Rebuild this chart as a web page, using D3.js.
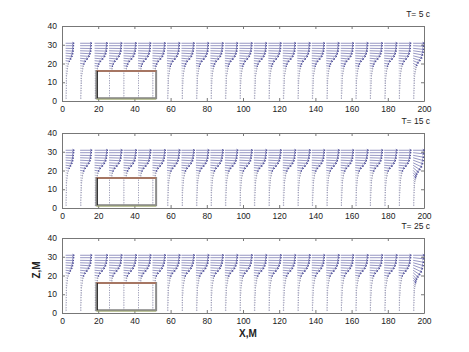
<!doctype html>
<html lang="en">
<head>
<meta charset="utf-8">
<title>Quiver panels</title>
<script src="https://d3js.org/d3.v7.min.js"></script>
<style>
  body { margin: 0; background: #fff; }
  svg text { font-family: "Liberation Sans", Arial, sans-serif; }
</style>
</head>
<body>
<div id="chart"></div>
<script>
// grid of arrow origins (m)
var xCols = [2, 10, 18, 26, 34, 42, 50, 58, 66, 74, 82, 90, 98, 106, 114, 122, 130, 138, 146, 154, 162, 170, 178, 186, 194];
var zRows = [1.5, 2.8, 4.2, 5.5, 6.8, 8.2, 9.5, 10.8, 12.1, 13.5, 14.8, 16.1, 17.5, 18.8, 20.1, 21.5, 22.8, 24.1, 25.5, 26.8, 28.1, 29.5, 30.8];
var xTicks = [0, 20, 40, 60, 80, 100, 120, 140, 160, 180, 200];
var zTicks = [0, 10, 20, 30, 40];
var titles = ["T= 5 c", "T= 15 c", "T= 25 c"];

// obstacle box (m)
var box = {x0: 19, x1: 52, z0: 1.5, z1: 16};

// horizontal / vertical arrow lengths per row, bottom to top
var u5  = [0.7, 0.7, 0.8, 0.8, 0.9, 0.9, 1.0, 1.0, 1.1, 1.2, 1.4, 1.6, 1.9, 2.2, 2.7, 3.6, 4.8, 5.9, 6.5, 6.9, 7.1, 7.2, 7.3];
var w5  = [0, 0, 0, 0, 0, 0, 0, -0.1, -0.1, -0.1, -0.2, -0.2, -0.3, -0.3, -0.4, -0.4, -0.4, -0.3, -0.3, -0.2, -0.1, 0, 0];
var u15 = [0.7, 0.7, 0.7, 0.8, 0.8, 0.9, 0.9, 1.0, 1.1, 1.2, 1.3, 1.5, 1.8, 2.1, 2.6, 3.5, 4.7, 5.8, 6.5, 6.9, 7.1, 7.3, 7.4];
var w15 = [0, 0, 0, 0, 0, 0, 0, -0.1, -0.1, -0.1, -0.2, -0.2, -0.3, -0.3, -0.4, -0.4, -0.4, -0.3, -0.3, -0.2, -0.1, 0, 0];
var u25 = [0.7, 0.7, 0.7, 0.8, 0.8, 0.8, 0.9, 1.0, 1.0, 1.1, 1.3, 1.5, 1.8, 2.0, 2.5, 3.4, 4.6, 5.7, 6.4, 6.9, 7.1, 7.3, 7.4];
var w25 = [0, 0, 0, 0, 0, 0, 0, -0.1, -0.1, -0.1, -0.2, -0.2, -0.3, -0.3, -0.4, -0.4, -0.4, -0.3, -0.3, -0.2, -0.1, 0, 0];

// column strength (left edge weaker)
var colScale = [0.65, 0.9, 1, 1, 1, 1, 1, 1, 1, 1, 1, 1, 1, 1, 1, 1, 1, 1, 1, 1, 1, 1, 1, 0.95, 0.85];

// last column turns downward near the right wall
var lastW5  = [0, 0, 0, 0, 0, 0, 0, 0, -0.2, -0.3, -0.4, -0.6, -0.8, -1.0, -1.2, -1.3, -1.3, -1.2, -1.0, -0.8, -0.6, -0.3, 0];
var lastW15 = [0, 0, 0, 0, 0, 0, 0, 0, -0.3, -0.5, -0.8, -1.2, -1.6, -2.0, -2.3, -2.5, -2.5, -2.3, -2.0, -1.6, -1.1, -0.6, 0];
var lastW25 = [0, 0, 0, 0, 0, 0, 0, 0, -0.3, -0.5, -0.8, -1.2, -1.6, -2.0, -2.3, -2.5, -2.5, -2.3, -2.0, -1.6, -1.1, -0.6, 0];

var panels = [
  {title: titles[0], u: u5,  w: w5,  lastW: lastW5,  top: 26},
  {title: titles[1], u: u15, w: w15, lastW: lastW15, top: 133},
  {title: titles[2], u: u25, w: w25, lastW: lastW25, top: 238}
];

var W = 469, H = 352;
var left = 62, right = 424, ph = 75;

var svg = d3.select("#chart").append("svg")
  .attr("width", W).attr("height", H);

var x = d3.scaleLinear().domain([0, 200]).range([left, right]);

panels.forEach(function(p) {
  var y = d3.scaleLinear().domain([0, 40]).range([p.top + ph, p.top]);
  var g = svg.append("g");

  // axes, matlab style ticks pointing inward
  g.append("g")
    .attr("transform", "translate(0," + (p.top + ph) + ")")
    .call(d3.axisBottom(x).tickValues(xTicks).tickSizeInner(-3).tickSizeOuter(0).tickPadding(5));
  g.append("g")
    .attr("transform", "translate(0," + p.top + ")")
    .call(d3.axisTop(x).tickValues(xTicks).tickSizeInner(-3).tickSizeOuter(0).tickFormat(""));
  g.append("g")
    .attr("transform", "translate(" + left + ",0)")
    .call(d3.axisLeft(y).tickValues(zTicks).tickSizeInner(-3).tickSizeOuter(0).tickPadding(5));
  g.append("g")
    .attr("transform", "translate(" + right + ",0)")
    .call(d3.axisRight(y).tickValues(zTicks).tickSizeInner(-3).tickSizeOuter(0).tickFormat(""));
  g.selectAll(".domain").attr("stroke", "#777");
  g.selectAll(".tick line").attr("stroke", "#777");
  g.selectAll(".tick text").attr("font-size", 8.5).attr("fill", "#222");

  // arrows
  var arrows = [];
  xCols.forEach(function(xc, i) {
    zRows.forEach(function(zr, j) {
      var u = p.u[j] * colScale[i];
      var w = p.w[j];
      if (i == xCols.length - 1) w = p.lastW[j];
      if (xc > box.x0 && xc < box.x1 && zr < box.z1) { u = 0.4; w = 0; }
      arrows.push({x: xc, z: zr, u: u, w: w});
    });
  });

  var a = g.append("g").attr("fill", "none");
  arrows.forEach(function(d) {
    var x0 = x(d.x), y0 = y(d.z), x1 = x(d.x + d.u), y1 = y(d.z + d.w);
    var dx = x1 - x0, dy = y1 - y0, len = Math.sqrt(dx * dx + dy * dy);
    var big = len > 4;
    a.append("line").attr("x1", x0).attr("y1", y0).attr("x2", x1).attr("y2", y1)
      .attr("stroke", big ? "#7c7cb4" : "#b4b4cc").attr("stroke-width", 0.8);
    var ang = Math.atan2(dy, dx), hl = Math.max(0.8, Math.min(2, len * 0.3));
    a.append("path")
      .attr("d", "M" + (x1 - hl * Math.cos(ang - 0.5)) + "," + (y1 - hl * Math.sin(ang - 0.5)) +
        "L" + x1 + "," + y1 +
        "L" + (x1 - hl * Math.cos(ang + 0.5)) + "," + (y1 - hl * Math.sin(ang + 0.5)))
      .attr("stroke", big ? "#34348a" : "#8a8aa6").attr("stroke-width", 0.7);
  });

  // obstacle outline
  var bx0 = x(box.x0), bx1 = x(box.x1), by0 = y(box.z0), by1 = y(box.z1);
  g.append("rect").attr("x", bx0).attr("y", by1).attr("width", bx1 - bx0).attr("height", by0 - by1)
    .attr("fill", "none").attr("stroke", "#8c8c8c").attr("stroke-width", 2);
  g.append("line").attr("x1", bx0).attr("x2", bx1).attr("y1", by1).attr("y2", by1)
    .attr("stroke", "#c0603a").attr("stroke-width", 1.2);
  g.append("line").attr("x1", bx0 + 1).attr("x2", bx0 + 1).attr("y1", by1).attr("y2", by0)
    .attr("stroke", "#222").attr("stroke-width", 1);
  g.append("line").attr("x1", bx0).attr("x2", bx1).attr("y1", by0 + 1).attr("y2", by0 + 1)
    .attr("stroke", "#9aa860").attr("stroke-width", 0.8);

  g.append("text").attr("x", 430).attr("y", p.top - 9).attr("text-anchor", "end")
    .attr("font-size", 8.5).attr("fill", "#222").text(p.title);
});

svg.append("text").attr("x", 248).attr("y", 337).attr("text-anchor", "middle")
  .attr("font-size", 10).attr("font-weight", "bold").attr("fill", "#222").text("X,M");
svg.append("text").attr("transform", "translate(40,270) rotate(-90)").attr("text-anchor", "middle")
  .attr("font-size", 10).attr("font-weight", "bold").attr("fill", "#222").text("Z,M");
</script>
</body>
</html>
